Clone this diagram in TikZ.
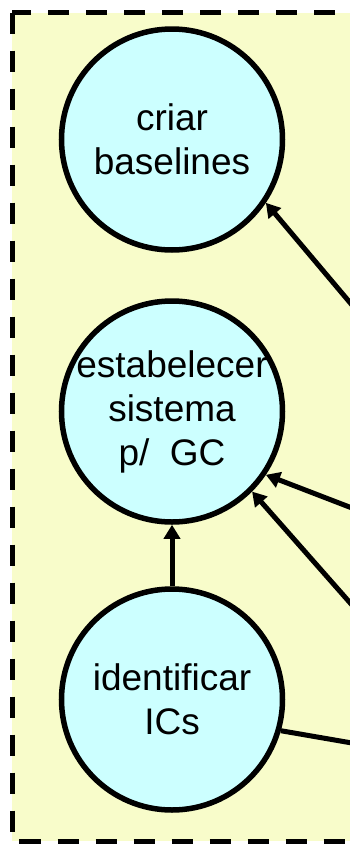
\documentclass[tikz,border=0pt]{standalone}
\usepackage{fontspec}
\setmainfont{Liberation Sans}
\usepackage{tikz}
\usetikzlibrary{arrows.meta,positioning}
\definecolor{fundo}{RGB}{248,252,202}
\definecolor{bolha}{RGB}{204,255,255}
\tikzset{
    %Define standard arrow tip
    >={Triangle[length=14pt,width=16pt]},
    %Define style for activities
    atividade/.style={
           circle,
           draw=black, line width=5.5pt,
           fill=bolha,
           minimum size=221pt,
           inner sep=-3pt,
           font=\fontsize{37}{44}\selectfont,
           align=center},
    %Define style for the dashed frame
    quadro/.style={
           draw=black, line width=5pt,
           dash pattern=on 21pt off 17pt,
           fill=fundo},
    % Define arrow style
    seta/.style={
           ->,
           line width=5pt}
}

\begin{document}
\begin{tikzpicture}[x=1pt,y=-1pt]
\useasboundingbox (0,0) rectangle (350,844);
\draw[quadro] (12,12.5) rectangle (352,841);
\node[atividade](baselines) at (172,139.5){criar\\baselines};
\node[atividade, below=45.5pt of baselines](sistema){estabelecer\\sistema\\p/\ \ GC};
\node[atividade, below=61.5pt of sistema](ics){identificar\\ICs};
% free ends at the right edge
\coordinate (e1) at (352,305);
\coordinate (e2) at (352,508);
\coordinate (e3) at (352,605);
\coordinate (s1) at (352,743);
\draw[seta] (e1) -- (baselines.-34);
\draw[seta] (e2) -- (sistema.-34);
\draw[seta] (e3) -- (sistema.-45);
\draw[seta] (ics) -- (sistema);
\draw[seta,-] (ics.-16) -- (s1);
\end{tikzpicture}
\end{document}
